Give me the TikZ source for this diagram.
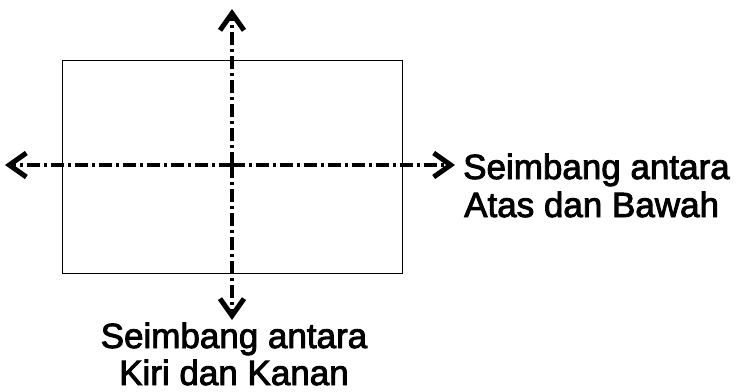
\documentclass[tikz,border=0pt]{standalone}
\usepackage{fontspec}
\newfontfamily\lblfont[FakeBold=2.5]{Liberation Sans}
\usetikzlibrary{arrows.meta}
\tikzset{
  axisline/.style={line width=4.4pt, dash pattern=on 13pt off 4pt on 3pt off 4pt,
    -{Straight Barb[length=17pt,width=24pt,line width=5pt]}},
  labeltext/.style={font=\lblfont\fontsize{35}{38}\selectfont, inner sep=0pt}
}
\begin{document}
\begin{tikzpicture}[x=1pt,y=-1pt]
\useasboundingbox (0,0) rectangle (741,391);
\node[draw, line width=1.2pt, minimum width=340pt, minimum height=213pt, inner sep=0pt, anchor=north west] (box) at (62,60) {};
\coordinate (c) at (232,165);
\coordinate (l) at (5,165);
\coordinate (r) at (455,165);
\coordinate (t) at (232,9);
\coordinate (b) at (232,320);
\draw[axisline] (c) -- (l);
\draw[axisline] (c) -- (r);
\draw[axisline] (c) -- (t);
\draw[axisline] (c) -- (b);
\node[labeltext, anchor=base west] (rt1) at (463,179) {Seimbang antara};
\node[labeltext, anchor=base west] (rt2) at (464,217) {Atas dan Bawah};
\node[labeltext, anchor=base] (bt1) at (234,348) {Seimbang antara};
\node[labeltext, anchor=base] (bt2) at (234,385) {Kiri dan Kanan};
\end{tikzpicture}
\end{document}
